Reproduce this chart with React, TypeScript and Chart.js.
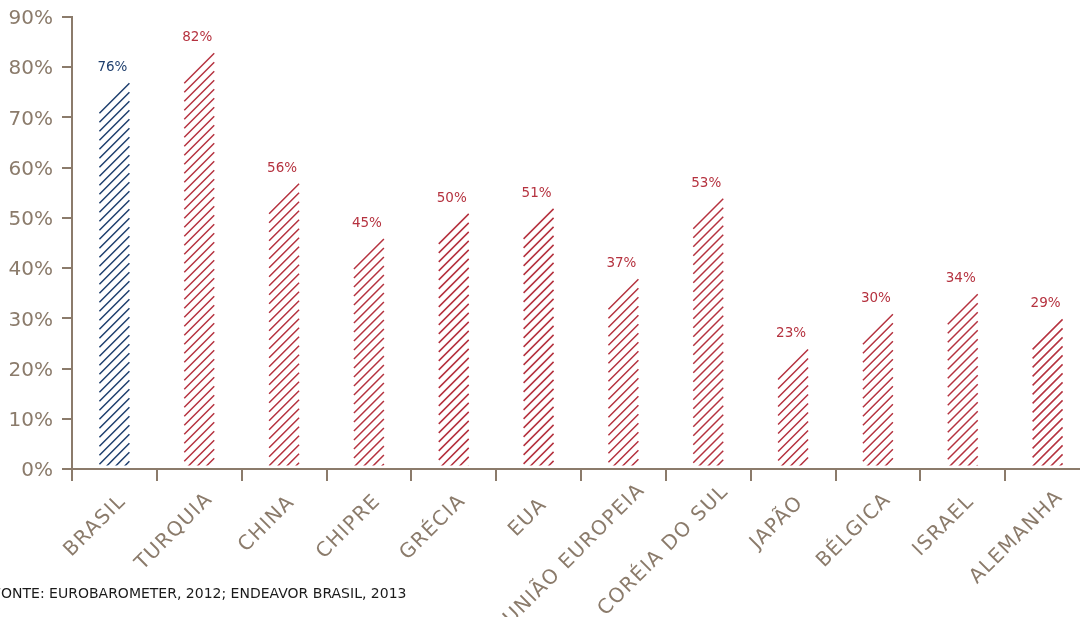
import React, { useEffect, useRef } from 'react';
import { Chart, registerables } from 'chart.js';

Chart.register(...registerables);

const categories = [
  'BRASIL', 'TURQUIA', 'CHINA', 'CHIPRE', 'GRÉCIA', 'EUA',
  'UNIÃO EUROPEIA', 'CORÉIA DO SUL', 'JAPÃO', 'BÉLGICA', 'ISRAEL', 'ALEMANHA',
];
const values = [76, 82, 56, 45, 50, 51, 37, 53, 23, 30, 34, 29];
const valueLabels = ['76%', '82%', '56%', '45%', '50%', '51%', '37%', '53%', '23%', '30%', '34%', '29%'];
const yTickLabels = ['0%', '10%', '20%', '30%', '40%', '50%', '60%', '70%', '80%', '90%'];
const sourceText = 'FONTE: EUROBAROMETER, 2012; ENDEAVOR BRASIL, 2013';

const BLUE = '#1f3f6e';
const RED = '#b5323f';
const AXIS = '#8b7b6b';
const barColors = categories.map((c) => (c === 'BRASIL' ? BLUE : RED));

const hatchPlugin = {
  id: 'hatchBars',
  afterDatasetsDraw(chart: any) {
    const ctx = chart.ctx;
    const meta = chart.getDatasetMeta(0);
    meta.data.forEach((bar: any, i: number) => {
      const { x, y, base, width } = bar.getProps(['x', 'y', 'base', 'width'], true);
      const left = x - width / 2;
      const right = x + width / 2;
      const bottom = base - 2.5;
      const top = y - 4;
      ctx.save();
      ctx.beginPath();
      ctx.rect(left - 1, top - 2, width + 2, bottom - top + 2);
      ctx.clip();
      ctx.strokeStyle = barColors[i];
      ctx.lineWidth = 1.5;
      ctx.lineCap = 'butt';
      ctx.beginPath();
      for (let yr = top; yr < bottom + width; yr += 9) {
        ctx.moveTo(right, yr);
        ctx.lineTo(left, yr + width);
      }
      ctx.stroke();
      ctx.restore();

      ctx.save();
      ctx.fillStyle = barColors[i];
      ctx.font = '13.5px "DejaVu Sans"';
      ctx.textAlign = 'center';
      ctx.textBaseline = 'alphabetic';
      ctx.fillText(valueLabels[i], x - 2, y - 16);
      ctx.restore();
    });
  },
};

const xLabelPlugin = {
  id: 'xLabels',
  afterDraw(chart: any) {
    const ctx = chart.ctx;
    const xs = chart.scales.x;
    const y0 = xs.top;
    ctx.save();
    ctx.font = '20px "DejaVu Sans"';
    try {
      (ctx as any).letterSpacing = '1.3px';
    } catch (e) {
      /* ignore */
    }
    ctx.fillStyle = AXIS;
    ctx.textAlign = 'right';
    ctx.textBaseline = 'alphabetic';
    categories.forEach((lab, i) => {
      const cx = xs.getPixelForTick(i);
      const L = ctx.measureText(lab).width;
      const ex = cx + 5 + 0.09 * L;
      const ey = y0 + 41 - 0.1 * L;
      ctx.save();
      ctx.translate(ex, ey);
      ctx.rotate(-Math.PI / 4);
      ctx.fillText(lab, 0, 0);
      ctx.restore();
    });
    ctx.restore();
  },
};

const sourcePlugin = {
  id: 'sourceText',
  afterDraw(chart: any) {
    const ctx = chart.ctx;
    ctx.save();
    try {
      (ctx as any).letterSpacing = '0px';
    } catch (e) {
      /* ignore */
    }
    ctx.fillStyle = '#1a1a1a';
    ctx.font = '14px "DejaVu Sans"';
    ctx.textAlign = 'left';
    ctx.textBaseline = 'alphabetic';
    ctx.fillText(sourceText, -7, 598);
    ctx.restore();
  },
};

export default function App() {
  const canvasRef = useRef<HTMLCanvasElement | null>(null);

  useEffect(() => {
    const canvas = canvasRef.current;
    if (!canvas) return;
    const chart = new Chart(canvas, {
      type: 'bar',
      data: {
        labels: categories,
        datasets: [
          {
            data: values,
            backgroundColor: 'rgba(0,0,0,0)',
            borderWidth: 0,
            barThickness: 30,
          },
        ],
      },
      options: {
        animation: false,
        responsive: false,
        maintainAspectRatio: false,
        devicePixelRatio: 1,
        layout: { padding: { top: 17, right: 10, bottom: 0, left: 0 } },
        plugins: {
          legend: { display: false },
          tooltip: { enabled: false },
        },
        scales: {
          x: {
            ticks: {
              display: false,
              autoSkip: false,
            },
            grid: {
              display: true,
              drawOnChartArea: false,
              drawTicks: true,
              tickLength: 12,
              color: AXIS,
              lineWidth: 2,
              offset: true,
            },
            border: { display: true, color: AXIS, width: 2 },
            afterFit(axis: any) {
              axis.height = 148;
              axis.paddingLeft = 0;
              axis.paddingRight = 0;
            },
          },
          y: {
            min: 0,
            max: 90,
            ticks: {
              stepSize: 10,
              color: AXIS,
              font: { family: 'DejaVu Sans', size: 20, lineHeight: 1 },
              padding: 9,
              labelOffset: 2,
              callback: (_v: any, i: number) => yTickLabels[i],
            },
            grid: {
              display: true,
              drawOnChartArea: false,
              drawTicks: true,
              tickLength: 10,
              color: AXIS,
              lineWidth: 2,
            },
            border: { display: true, color: AXIS, width: 2 },
            afterFit(axis: any) {
              axis.width = 72;
              axis.paddingTop = 0;
              axis.paddingBottom = 0;
            },
          },
        },
      },
      plugins: [hatchPlugin, xLabelPlugin, sourcePlugin],
    });
    return () => chart.destroy();
  }, []);

  return (
    <div
      style={{
        position: 'fixed',
        left: 0,
        top: 0,
        width: 1080,
        height: 617,
        overflow: 'hidden',
        background: '#fff',
      }}
    >
      <canvas
        ref={canvasRef}
        width={1100}
        height={617}
        style={{ width: 1100, height: 617, display: 'block' }}
      />
    </div>
  );
}
